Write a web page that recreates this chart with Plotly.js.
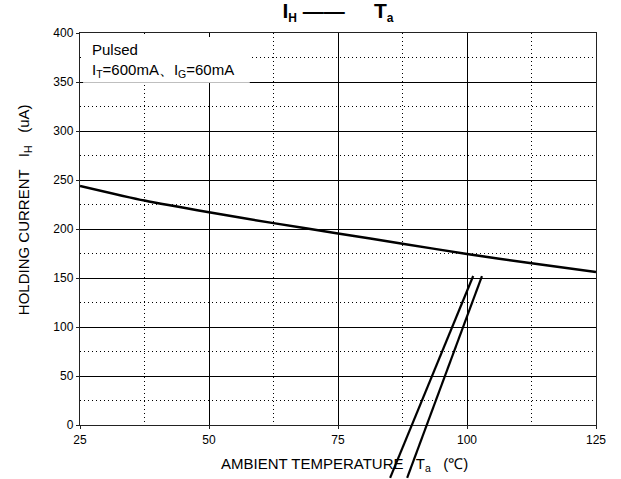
<!DOCTYPE html>
<html>
<head>
<meta charset="utf-8">
<script src="https://cdn.plot.ly/plotly-3.0.1.min.js"></script>
<style>html,body{margin:0;padding:0;background:#fff;}#chart{width:621px;height:479px;}</style>
</head>
<body>
<div id="chart"></div>
<script>
// Holding current vs ambient temperature
const temperature = [25, 37.5, 50, 62.5, 75, 87.5, 100, 112.5, 125];
const holdingCurrent = [244, 229, 217, 206, 195.5, 185, 174.5, 165, 156];
// Axis-break slash marks (data units: temperature, current)
const breakLineA_T = [101.2, 85.1];
const breakLineB_T = [102.9, 88.4];
const breakLine_I = [152, -54];

const xRange = [25, 125];
const yRange = [0, 400];
const xTicks = [25, 50, 75, 100, 125];
const yTicks = [0, 50, 100, 150, 200, 250, 300, 350, 400];

function toPaperX(t) { return (t - xRange[0]) / (xRange[1] - xRange[0]); }
function toPaperY(i) { return (i - yRange[0]) / (yRange[1] - yRange[0]); }

const shapes = [breakLineA_T, breakLineB_T].map(ts => ({
  type: 'line', xref: 'paper', yref: 'paper', layer: 'above',
  x0: toPaperX(ts[0]), y0: toPaperY(breakLine_I[0]),
  x1: toPaperX(ts[1]), y1: toPaperY(breakLine_I[1]),
  line: {color: '#000', width: 2.2}
}));
// white box behind the condition note
shapes.unshift({
  type: 'rect', xref: 'paper', yref: 'paper', layer: 'above',
  x0: 0.006, x1: 0.329, y0: 0.873, y1: 0.99,
  fillcolor: '#fff', line: {width: 0}
});

const font = 'Arial, "Liberation Sans", sans-serif';

const trace = {
  x: temperature, y: holdingCurrent, type: 'scatter', mode: 'lines',
  line: {color: '#000', width: 2.5, shape: 'spline', smoothing: 0.6},
  hoverinfo: 'skip'
};

const dotDash = '1px,3px';

const layout = {
  width: 621, height: 479,
  margin: {l: 80, r: 25, t: 33, b: 54},
  paper_bgcolor: '#fff', plot_bgcolor: '#fff',
  showlegend: false,
  font: {family: font, color: '#000', size: 12},
  title: {
    text: '<b>I<sub><span style="font-size:12px">H</span></sub> ——     T<sub><span style="font-size:12px">a</span></sub></b>',
    font: {family: font, size: 21, color: '#000'},
    xref: 'paper', x: 0.5, xanchor: 'center', yref: 'container', y: 1, yanchor: 'top',
    pad: {t: 3}
  },
  xaxis: {
    range: xRange, tickvals: xTicks, ticktext: xTicks.map(String),
    showgrid: true, gridcolor: '#000', gridwidth: 1,
    zeroline: false, showline: true, linecolor: '#222', linewidth: 1.2, mirror: true,
    ticks: 'outside', ticklen: 3, tickcolor: '#222',
    tickfont: {family: font, size: 12, color: '#000'},
    minor: {dtick: 12.5, tick0: 25, showgrid: true, gridcolor: '#000', griddash: dotDash, gridwidth: 1, ticks: ''}
  },
  yaxis: {
    range: yRange, tickvals: yTicks, ticktext: yTicks.map(String),
    showgrid: true, gridcolor: '#000', gridwidth: 1,
    zeroline: false, showline: true, linecolor: '#222', linewidth: 1.2, mirror: true,
    ticks: 'outside', ticklen: 3, tickcolor: '#222',
    tickfont: {family: font, size: 12, color: '#000'},
    minor: {dtick: 25, tick0: 0, showgrid: true, gridcolor: '#000', griddash: dotDash, gridwidth: 1, ticks: ''}
  },
  annotations: [{
    xref: 'paper', yref: 'paper', x: 0.02, y: 0.985, xanchor: 'left', yanchor: 'top',
    text: 'Pulsed<br>I<sub>T</sub>=600mA、I<sub>G</sub>=60mA',
    showarrow: false, align: 'left',
    font: {family: font, size: 15, color: '#000'}
  }, {
    xref: 'paper', yref: 'paper', x: 0.5135, y: -0.0995, xanchor: 'center', yanchor: 'middle',
    text: 'AMBIENT TEMPERATURE   T<sub>a</sub>   (℃)',
    showarrow: false, font: {family: font, size: 15, color: '#000'}
  }, {
    xref: 'paper', yref: 'paper', x: -0.1085, y: 0.548, xanchor: 'center', yanchor: 'middle',
    textangle: -90,
    text: 'HOLDING CURRENT   I<sub>H</sub>   (uA)',
    showarrow: false, font: {family: font, size: 15, color: '#000'}
  }],
  shapes: shapes
};

Plotly.newPlot('chart', [trace], layout, {staticPlot: true, displayModeBar: false});
</script>
</body>
</html>
